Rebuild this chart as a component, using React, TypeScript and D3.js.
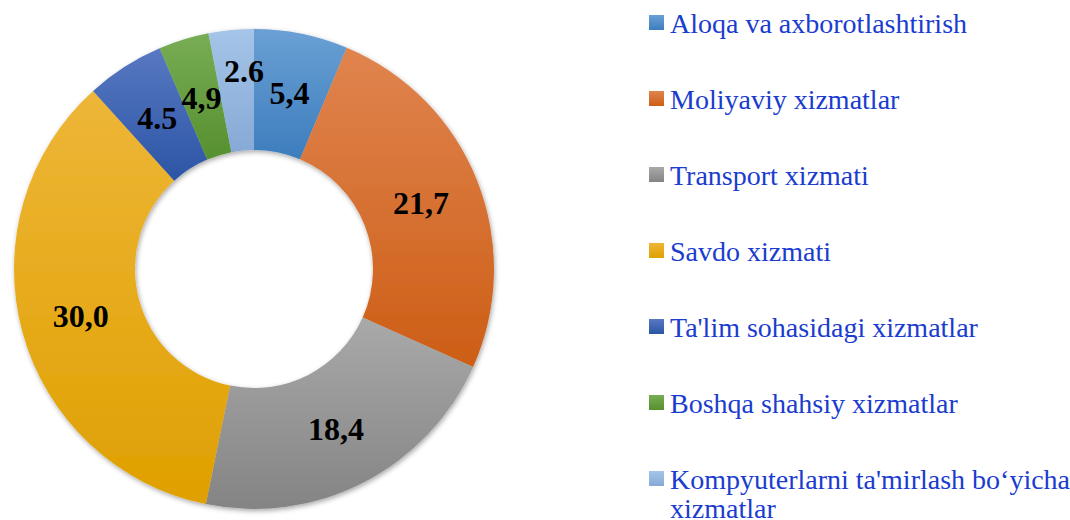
import React from "react";
import * as d3 from "d3";

const categories = [
  "Aloqa va axborotlashtirish",
  "Moliyaviy xizmatlar",
  "Transport xizmati",
  "Savdo xizmati",
  "Ta'lim sohasidagi xizmatlar",
  "Boshqa shahsiy xizmatlar",
  "Kompyuterlarni ta'mirlash bo‘yicha xizmatlar",
];
// slice sizes as drawn in the reference
const values = [5.4, 21.7, 18.4, 30.0, 4.5, 2.9, 2.6];
// data label texts as printed in the reference
const labels = ["5,4", "21,7", "18,4", "30,0", "4.5", "4,9", "2.6"];
// legend lines (last one wraps)
const legendLines = [
  ["Aloqa va axborotlashtirish"],
  ["Moliyaviy xizmatlar"],
  ["Transport xizmati"],
  ["Savdo xizmati"],
  ["Ta'lim sohasidagi xizmatlar"],
  ["Boshqa shahsiy xizmatlar"],
  ["Kompyuterlarni ta'mirlash bo‘yicha", "xizmatlar"],
];

const gradTop = ["#6aa0d4", "#e0844f", "#a9a9a9", "#eeb638", "#5878c2", "#78ad55", "#a5c4e8"];
const gradBottom = ["#3d7dbd", "#cd5e16", "#848484", "#dfa000", "#2c55a5", "#56902f", "#86aad6"];
const labelNudge: [number, number][] = [[0, 0], [0, 0], [0, 0], [0, 0], [0, 0], [0, 0], [7, -20]];

export default function App() {
  const W = 1070, H = 520;
  const cx = 254, cy = 269, rOuter = 240, rInner = 119;
  const pie = d3.pie<number>().value((d) => d).sort(null)(values);
  const arc = d3.arc<d3.PieArcDatum<number>>().innerRadius(rInner).outerRadius(rOuter);
  const legendY = d3.scaleLinear().domain([0, categories.length - 1]).range([23, 479]);
  const serif = "'Liberation Serif', 'Times New Roman', serif";
  return (
    <svg width={W} height={H} style={{ position: "absolute", left: 0, top: 0, background: "#fff" }}>
      <defs>
        {categories.map((c, i) => (
          <linearGradient key={c} id={`g${i}`} x1="0" y1="0" x2="0" y2="1">
            <stop offset="0" stopColor={gradTop[i]} />
            <stop offset="1" stopColor={gradBottom[i]} />
          </linearGradient>
        ))}
        <filter id="sh" x="-10%" y="-10%" width="120%" height="120%">
          <feDropShadow dx="1" dy="2" stdDeviation="2.5" floodColor="#000" floodOpacity="0.35" />
        </filter>
      </defs>
      <g transform={`translate(${cx},${cy})`}>
        <g filter="url(#sh)">
          {pie.map((p, i) => (
            <path key={i} d={arc(p) || ""} fill={`url(#g${i})`} />
          ))}
        </g>
        {pie.map((p, i) => {
          const [x, y] = arc.centroid(p);
          return (
            <text
              key={i}
              x={x + labelNudge[i][0]}
              y={y + labelNudge[i][1]}
              dy="0.35em"
              textAnchor="middle"
              fontFamily={serif}
              fontWeight="bold"
              fontSize={32}
              fill="#000"
            >
              {labels[i]}
            </text>
          );
        })}
      </g>
      <g>
        {categories.map((c, i) => (
          <g key={c} transform={`translate(0,${legendY(i)})`}>
            <rect x={649} y={-8} width={15} height={15} fill={`url(#g${i})`} />
            <text x={670} y={0} fontFamily={serif} fontSize={28} fill="#1a3ccf">
              {legendLines[i].map((l, j) => (
                <tspan key={j} x={670} dy={j === 0 ? "0.35em" : 29}>
                  {l}
                </tspan>
              ))}
            </text>
          </g>
        ))}
      </g>
    </svg>
  );
}
